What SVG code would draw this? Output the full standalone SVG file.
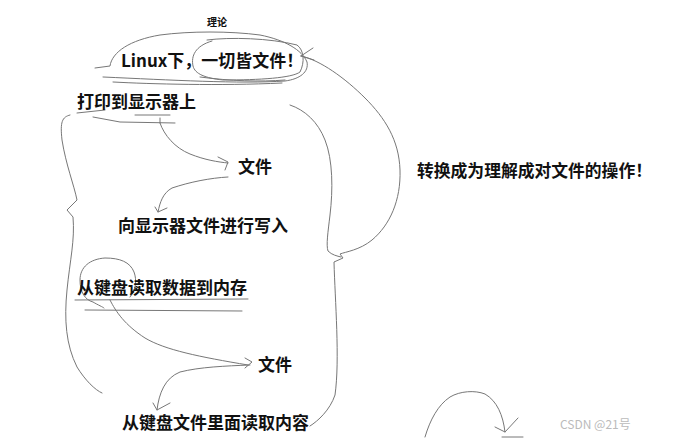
<svg xmlns="http://www.w3.org/2000/svg" width="681" height="438" viewBox="0 0 681 438">
<style>
.t{font-family:"Noto Sans CJK SC","Noto Sans",sans-serif;font-weight:bold;fill:#111;}
.l{fill:none;stroke:#777;stroke-width:1;stroke-linecap:round;stroke-linejoin:round;}
</style>
<rect width="681" height="438" fill="#fff"/>
<g id="connectors">
<!-- outer loop around title -->
<path class="l" d="M95,68 L110,66 C112,52 130,40 160,35 C190,31 230,31 260,35 C285,40 302,50 307,62 C309,72 300,79 285,81 C240,84 170,80 103,77"/>
<path class="l" d="M113,82 C150,84 220,86 282,83"/>
<!-- inner ellipse -->
<path class="l" d="M207,40 C230,37 270,38 297,45 C304,50 305,62 300,72 C292,78 260,80 223,80 C205,78 195,74 193,66 C191,56 195,46 212,41"/>
<path class="l" d="M200,77 C230,81 260,82 285,80"/>
<!-- arrow into title from right outer curve -->
<path class="l" d="M301,56 C320,60 345,78 365,98 C385,118 399,140 400,170 C401,200 390,225 372,240 C360,250 345,252 340,254 L343,258 L334,262 C335,300 340,360 335,395 C330,410 318,421 310,426"/>
<path class="l" d="M301,56 L313,48 M301,56 L314,60"/>
<!-- inner right curve -->
<path class="l" d="M290,105 C305,110 318,122 325,140 C333,160 333,190 330,215 C328,232 326,245 328,251 C332,255 337,256 341,257"/>
<!-- left curve -->
<path class="l" d="M70,115 C62,117 60,122 62,140 C66,165 74,185 77,200 L67,210 L73,217 C75,240 70,260 67,290 C64,320 66,345 77,367 C85,380 95,390 102,393"/>
<!-- underlines first -->
<path class="l" d="M77,113 L105,110"/>
<path class="l" d="M93,117 L120,122 L175,123"/>
<path class="l" d="M135,115 L170,115"/>
<path class="l" d="M160,118 L160,123"/>
<!-- arrow to 文件 -->
<path class="l" d="M160,123 C164,135 175,148 190,154 C205,160 218,162 228,163"/>
<path class="l" d="M218,157 L228,162 L225,170"/>
<!-- arrow from 文件 -->
<path class="l" d="M228,177 C210,178 190,182 172,188 C163,193 160,202 158,212"/>
<path class="l" d="M155,207 L158,212 L167,208"/>
<!-- loop around 从 -->
<path class="l" d="M130,297 C136,290 137,280 134,272 C130,262 120,258 105,258 C90,259 80,267 80,280 C80,292 85,300 93,302 C98,305 103,307 104,308"/>
<!-- underlines second -->
<path class="l" d="M75,300 L248,299"/>
<path class="l" d="M85,310 L242,311"/>
<!-- arrow to second 文件 -->
<path class="l" d="M110,300 C116,312 125,325 145,338 C165,350 200,357 248,365"/>
<path class="l" d="M245,358 L252,362 L245,368"/>
<!-- arrow from second 文件 -->
<path class="l" d="M250,365 C225,366 200,367 180,372 C165,378 159,393 157,410"/>
<path class="l" d="M153,403 L157,410 L170,403"/>
<!-- bottom arc -->
<path class="l" d="M425,437 C430,420 438,405 450,397 C460,391 475,390 485,394 C497,401 503,415 505,432"/>
<path class="l" d="M495,427 L505,432 L518,418"/>
<path class="l" d="M502,437 L523,437"/>
</g>
<g id="n-theory"><text class="t" x="207" y="26" font-size="10">理论</text></g>
<g id="n-title"><text class="t" x="121" y="67" font-size="17">Linux下，一切皆文件！</text></g>
<g id="n-print"><text class="t" x="77" y="108" font-size="17">打印到显示器上</text></g>
<g id="n-file1"><text class="t" x="238" y="173" font-size="17">文件</text></g>
<g id="n-write"><text class="t" x="118" y="232" font-size="17">向显示器文件进行写入</text></g>
<g id="n-read"><text class="t" x="77" y="294" font-size="17">从键盘读取数据到内存</text></g>
<g id="n-file2"><text class="t" x="258" y="371" font-size="17">文件</text></g>
<g id="n-readfile"><text class="t" x="122" y="429" font-size="17">从键盘文件里面读取内容</text></g>
<g id="n-convert"><text class="t" x="417" y="177" font-size="16.8">转换成为理解成对文件的操作！</text></g>
<g id="n-watermark"><text x="560" y="429" font-size="12" fill="#bbb" font-family="'Noto Sans CJK SC','Noto Sans',sans-serif">CSDN @21号</text></g>
</svg>
